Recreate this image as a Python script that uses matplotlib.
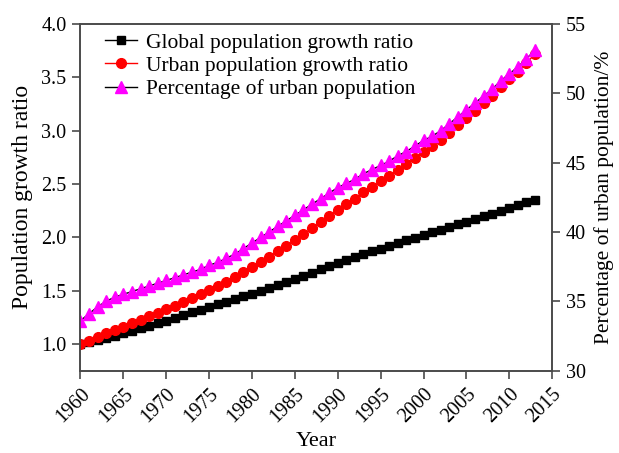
import numpy as np
import matplotlib
matplotlib.use("Agg")
import matplotlib.pyplot as plt

plt.rcParams['font.family'] = ['Liberation Serif', 'DejaVu Serif']

years = np.arange(1960, 2014)

# global population relative to 1960
global_ratio = [1.000, 1.014, 1.032, 1.054, 1.078, 1.100, 1.123, 1.146, 1.170, 1.194,
                1.219, 1.245, 1.271, 1.296, 1.322, 1.346, 1.371, 1.396, 1.421, 1.447,
                1.472, 1.499, 1.527, 1.555, 1.582, 1.610, 1.639, 1.668, 1.698, 1.727,
                1.757, 1.785, 1.813, 1.840, 1.867, 1.893, 1.919, 1.945, 1.971, 1.996,
                2.021, 2.046, 2.071, 2.096, 2.121, 2.146, 2.171, 2.197, 2.222, 2.248,
                2.275, 2.300, 2.327, 2.352]

# urban population relative to 1960
urban_ratio = [1.000, 1.029, 1.063, 1.098, 1.133, 1.162, 1.193, 1.224, 1.257, 1.290,
               1.324, 1.360, 1.396, 1.431, 1.468, 1.506, 1.542, 1.583, 1.624, 1.671,
               1.717, 1.767, 1.818, 1.870, 1.921, 1.974, 2.029, 2.085, 2.143, 2.200,
               2.259, 2.311, 2.363, 2.420, 2.473, 2.524, 2.576, 2.634, 2.687, 2.745,
               2.803, 2.856, 2.915, 2.982, 3.049, 3.117, 3.185, 3.256, 3.326, 3.405,
               3.480, 3.553, 3.636, 3.717]

# share of urban population (%)
urban_pct = [33.6, 34.1, 34.6, 35.0, 35.3, 35.5, 35.7, 35.9, 36.1, 36.3,
             36.5, 36.7, 36.9, 37.1, 37.3, 37.6, 37.8, 38.1, 38.4, 38.8,
             39.2, 39.6, 40.0, 40.4, 40.8, 41.2, 41.6, 42.0, 42.4, 42.8,
             43.2, 43.5, 43.8, 44.2, 44.5, 44.8, 45.1, 45.5, 45.8, 46.2,
             46.6, 46.9, 47.3, 47.8, 48.3, 48.8, 49.3, 49.8, 50.3, 50.9,
             51.4, 51.9, 52.5, 53.1]

fig = plt.figure(figsize=(6.19, 4.53), dpi=100)
ax = fig.add_axes([0.130, 0.182, 0.762, 0.765])
ax2 = ax.twinx()

l1, = ax.plot(years, global_ratio, color='black', marker='s', markersize=6.3,
              linewidth=1, label='Global population growth ratio')
l2, = ax.plot(years, urban_ratio, color='red', marker='o', markersize=7,
              linewidth=1, label='Urban population growth ratio')
l3, = ax2.plot(years, urban_pct, color='black', marker='^', markersize=8,
               markerfacecolor='magenta', markeredgecolor='magenta',
               linewidth=1, label='Percentage of urban population')
ax2.set_zorder(ax.get_zorder() + 1)

ax.set_xlim(1960, 2015)
ax.set_ylim(0.75, 4.0)
ax2.set_ylim(30, 55)
ax.set_xticks(np.arange(1960, 2016, 5))
ax.set_yticks(np.arange(1.0, 4.01, 0.5))
ax2.set_yticks(np.arange(30, 56, 5))

for a in (ax, ax2):
    for s in a.spines.values():
        s.set_color('#4a4a4a')
        s.set_linewidth(1.2)
    a.tick_params(direction='out', length=6, width=1.2, color='#4a4a4a',
                  labelsize=14.5, pad=4)

plt.setp(ax.get_xticklabels(), rotation=45, ha='right', va='top', rotation_mode='anchor')

ax.set_xlabel('Year', fontsize=16, labelpad=4)
ax.set_ylabel('Population growth ratio', fontsize=17, labelpad=6)
ax2.set_ylabel('Percentage of urban population/%', fontsize=15.5, labelpad=6)

ax2.legend(handles=[l1, l2, l3], loc='upper left', bbox_to_anchor=(0.034, 1.0),
           frameon=False, fontsize=15.5, handlelength=1.5, handletextpad=0.4,
           labelspacing=0.15, borderaxespad=0)

fig.savefig('out.png', dpi=100)
